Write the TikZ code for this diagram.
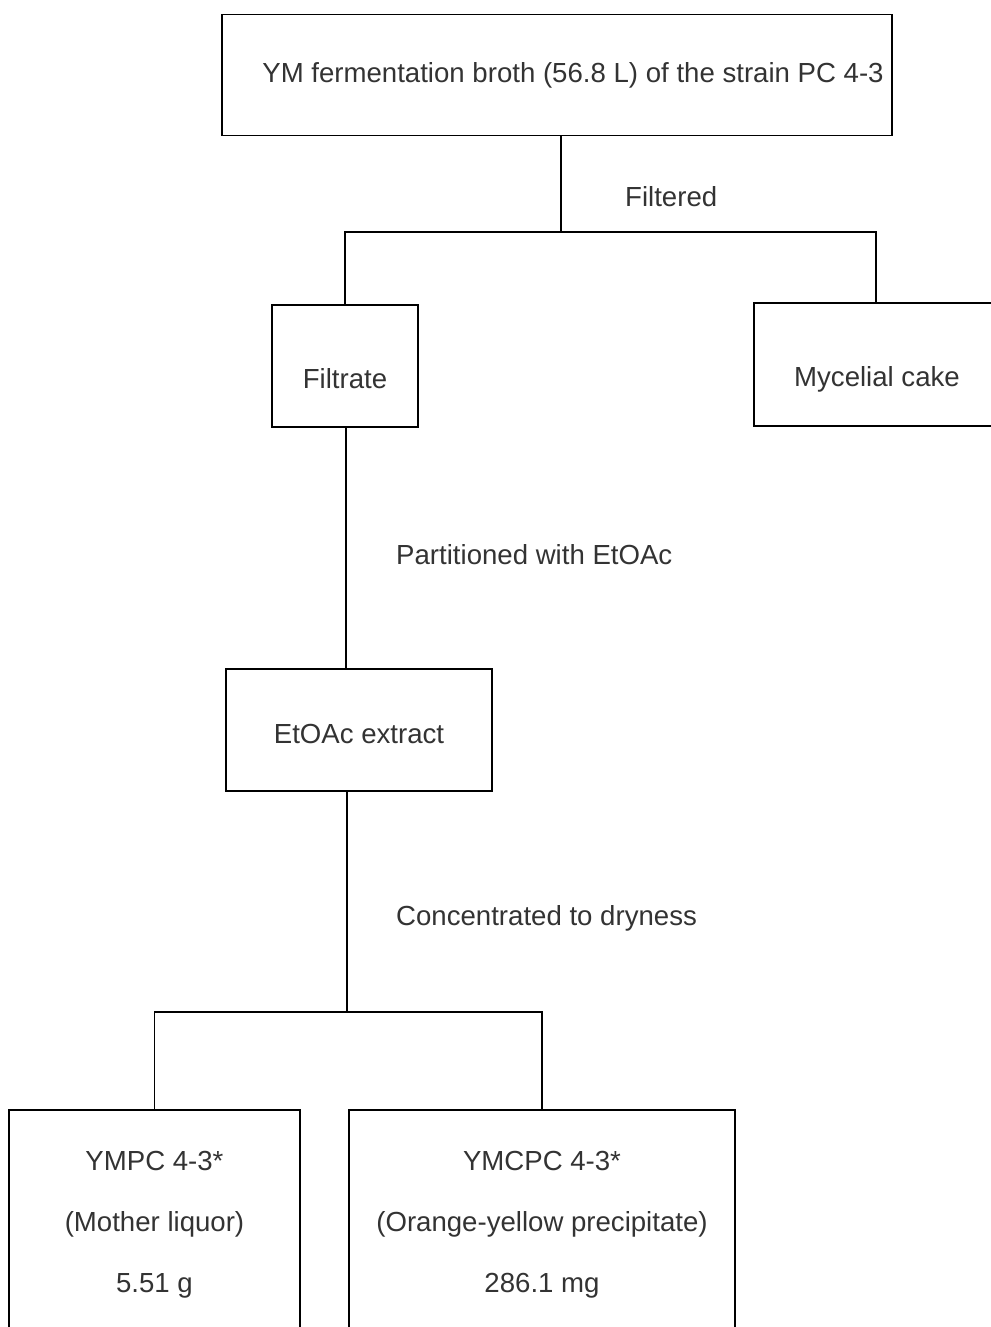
\documentclass[tikz,border=0pt]{standalone}
\usepackage{fontspec}
\setmainfont{Liberation Sans}
\begin{document}
\begin{tikzpicture}[x=1pt,y=-1pt,
  every node/.style={font=\fontsize{27.6}{28}\selectfont, text=black!80},
  box/.style={draw=black, line width=1.2pt, rectangle, inner sep=0pt},
  conn/.style={draw=black, line width=1.1pt},
  lbl/.style={anchor=west, inner sep=0pt}]
\useasboundingbox (0,0) rectangle (990,1327);
\node[box, minimum width=670pt, minimum height=121pt] (top) at (557,75) {\hspace*{32pt}YM fermentation broth (56.8 L) of the strain PC 4-3};
\node[box, minimum width=146pt, minimum height=122pt, text height=50pt, text depth=6pt] (filt) at (345,366) {Filtrate};
\node[box, minimum width=246pt, minimum height=123pt, text height=50pt, text depth=6pt] (myc) at (877,364.5) {Mycelial cake};
\node[box, minimum width=266pt, minimum height=122pt, text height=32pt, text depth=6pt] (etoac) at (359,730) {EtOAc extract};
\node[box, minimum width=291pt, minimum height=230pt, align=center] (ympc) at (154.5,1225) {YMPC 4-3*\\[33pt] (Mother liquor)\\[33pt] 5.51 g};
\node[box, minimum width=386pt, minimum height=230pt, align=center] (ymcpc) at (542,1225) {YMCPC 4-3*\\[33pt] (Orange-yellow precipitate)\\[33pt] 286.1 mg};
\coordinate (j1) at (561,232);
\coordinate (j2) at (347,1012);
\draw[conn] (top.south -| j1) -- (j1);
\draw[conn] (filt.north) |- (j1) -| (876,303);
\draw[conn] (346,427) -- (346,669);
\draw[conn] (etoac.south -| j2) -- (j2);
\draw[conn] (ympc.north) |- (j2) -| (ymcpc.north);
\node[lbl] (lf) at (625,197) {Filtered};
\node[lbl] (lp) at (396,555) {Partitioned with EtOAc};
\node[lbl] (lc) at (396,918) {Concentrated to dryness};
\end{tikzpicture}
\end{document}
